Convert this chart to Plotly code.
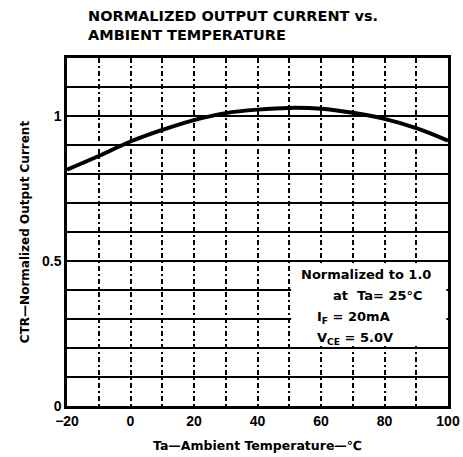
import plotly.graph_objects as go

# Data
temperature = [-20, -10, 0, 10, 20, 30, 40, 50, 60, 70, 80, 90, 100]
ctr_normalized = [0.815, 0.862, 0.912, 0.952, 0.986, 1.010, 1.022, 1.028, 1.025, 1.011, 0.990, 0.958, 0.915]

x_ticks = [-20, 0, 20, 40, 60, 80, 100]
y_ticks = [0, 0.5, 1.0]
y_ticklabels = ["0", "0.5", "1"]

title_text = "NORMALIZED OUTPUT CURRENT vs.<br>AMBIENT TEMPERATURE"
note_lines = ["Normalized to 1.0", "at  Ta= 25°C", "I<sub>F</sub> = 20mA", "V<sub>CE</sub> = 5.0V"]

FONT = "Liberation Sans, Arial, sans-serif"
WIDE = "DejaVu Sans, sans-serif"

fig = go.Figure()
fig.add_trace(go.Scatter(
    x=temperature, y=ctr_normalized, mode="lines",
    line=dict(color="black", width=4, shape="spline", smoothing=1.0),
    showlegend=False, hoverinfo="skip",
))

# white box behind the notes (covers gridlines)
fig.add_shape(type="rect", xref="x", yref="y", x0=50.6, x1=99.5, y0=0.207, y1=0.493,
              fillcolor="white", line=dict(width=0), layer="between")

note_pos = [(53.0, 0.452), (63.0, 0.382), (58.0, 0.306), (58.0, 0.233)]
for txt, (nx, ny) in zip(note_lines, note_pos):
    fig.add_annotation(x=nx, y=ny, xref="x", yref="y", text=txt, showarrow=False,
                       xanchor="left", yanchor="middle",
                       font=dict(family=WIDE, size=13, color="black", weight="bold"))

fig.add_annotation(x=0.05, y=1.15, xref="paper", yref="paper", text=title_text, showarrow=False,
                   xanchor="left", yanchor="top", align="left",
                   font=dict(family=WIDE, size=14.5, color="black", weight="bold"))

grid_v = dict(gridcolor="black", gridwidth=1.5, griddash="5px,3px,2px,3px")
grid_h = dict(gridcolor="black", gridwidth=2)

fig.update_layout(
    width=463, height=457,
    margin=dict(l=67, r=15, t=58, b=51),
    paper_bgcolor="white", plot_bgcolor="white",
    font=dict(family=FONT, color="black", size=13),
    showlegend=False,
)
fig.update_xaxes(
    range=[-20, 100], tickvals=x_ticks, automargin=False,
    showgrid=True, **grid_v,
    minor=dict(dtick=10, tick0=-20, showgrid=True, ticks="", **grid_v),
    showline=True, linecolor="black", linewidth=2.5, mirror=True,
    ticks="", zeroline=False,
    tickfont=dict(family=FONT, size=14, weight="bold"),
    title=dict(text="Ta—Ambient Temperature—℃", font=dict(family=WIDE, size=12.5, weight="bold"), standoff=14),
)
fig.update_yaxes(
    range=[0, 1.2], tickvals=y_ticks, ticktext=y_ticklabels, automargin=False,
    showgrid=True, **grid_h,
    minor=dict(dtick=0.1, tick0=0, showgrid=True, ticks="", **grid_h),
    showline=True, linecolor="black", linewidth=2.5, mirror=True,
    ticks="", zeroline=False,
    tickfont=dict(family=FONT, size=14, weight="bold"),
    title=dict(text="CTR—Normalized Output Current", font=dict(family=WIDE, size=12, weight="bold"), standoff=10),
)

fig.write_html("out.html", config={"displayModeBar": False},
               post_script="document.body.style.margin='0';")
